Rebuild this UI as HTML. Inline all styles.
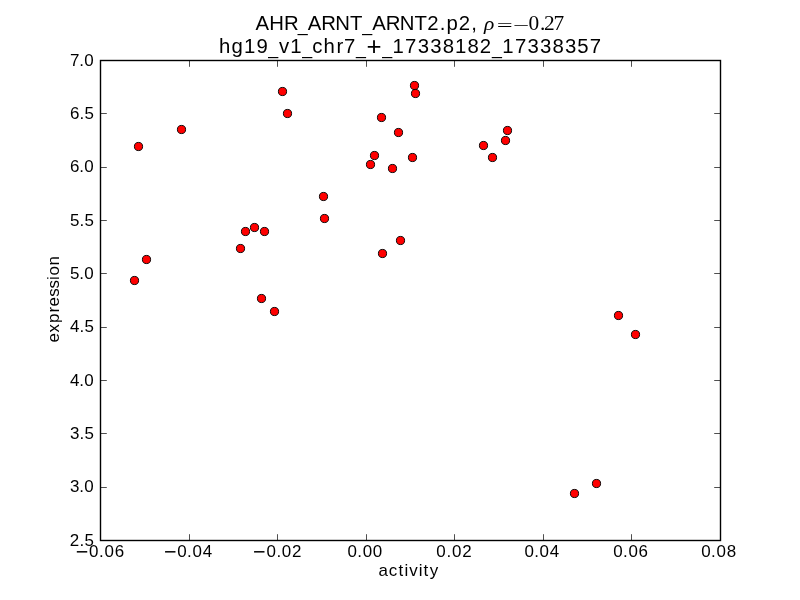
<!DOCTYPE html>
<html lang="en"><head><meta charset="utf-8"><title>AHR_ARNT_ARNT2.p2 activity vs expression</title>
<style>html,body{margin:0;padding:0;background:#fff;width:800px;height:600px;overflow:hidden}svg{display:block;will-change:transform}text{white-space:pre}</style></head>
<body>
<svg width="800" height="600" viewBox="0 0 800 600" font-family="'Liberation Sans', sans-serif" fill="#000">
<rect width="800" height="600" fill="#fff"/>
<g fill="#ff0000" stroke="#000" stroke-width="0.95">
<circle cx="138.50" cy="146.50" r="4.08"/>
<circle cx="181.50" cy="129.50" r="4.08"/>
<circle cx="146.50" cy="259.50" r="4.08"/>
<circle cx="134.50" cy="280.50" r="4.08"/>
<circle cx="245.50" cy="231.50" r="4.08"/>
<circle cx="254.50" cy="227.50" r="4.08"/>
<circle cx="264.50" cy="231.50" r="4.08"/>
<circle cx="240.50" cy="248.50" r="4.08"/>
<circle cx="261.50" cy="298.50" r="4.08"/>
<circle cx="274.50" cy="311.50" r="4.08"/>
<circle cx="282.50" cy="91.50" r="4.08"/>
<circle cx="287.50" cy="113.50" r="4.08"/>
<circle cx="414.50" cy="85.50" r="4.08"/>
<circle cx="415.50" cy="93.50" r="4.08"/>
<circle cx="381.50" cy="117.50" r="4.08"/>
<circle cx="398.50" cy="132.50" r="4.08"/>
<circle cx="374.50" cy="155.50" r="4.08"/>
<circle cx="370.50" cy="164.50" r="4.08"/>
<circle cx="392.50" cy="168.50" r="4.08"/>
<circle cx="412.50" cy="157.50" r="4.08"/>
<circle cx="323.50" cy="196.50" r="4.08"/>
<circle cx="324.50" cy="218.50" r="4.08"/>
<circle cx="400.50" cy="240.50" r="4.08"/>
<circle cx="382.50" cy="253.50" r="4.08"/>
<circle cx="483.50" cy="145.50" r="4.08"/>
<circle cx="492.50" cy="157.50" r="4.08"/>
<circle cx="505.50" cy="140.50" r="4.08"/>
<circle cx="507.50" cy="130.50" r="4.08"/>
<circle cx="618.50" cy="315.50" r="4.08"/>
<circle cx="635.50" cy="334.50" r="4.08"/>
<circle cx="574.50" cy="493.50" r="4.08"/>
<circle cx="596.50" cy="483.50" r="4.08"/>
</g>
<path d="M189.5 540.5v-6.3M189.5 60.5v6.3M277.5 540.5v-6.3M277.5 60.5v6.3M366.5 540.5v-6.3M366.5 60.5v6.3M454.5 540.5v-6.3M454.5 60.5v6.3M543.5 540.5v-6.3M543.5 60.5v6.3M631.5 540.5v-6.3M631.5 60.5v6.3M100.5 113.5h6.3M720.5 113.5h-6.3M100.5 167.5h6.3M720.5 167.5h-6.3M100.5 220.5h6.3M720.5 220.5h-6.3M100.5 273.5h6.3M720.5 273.5h-6.3M100.5 327.5h6.3M720.5 327.5h-6.3M100.5 380.5h6.3M720.5 380.5h-6.3M100.5 433.5h6.3M720.5 433.5h-6.3M100.5 487.5h6.3M720.5 487.5h-6.3" stroke="#000" stroke-width="0.69" fill="none"/>
<rect x="100.5" y="60.5" width="620" height="480" fill="none" stroke="#000" stroke-width="1.4"/>
<text font-size="16.95"><tspan x="75.69" y="558.82" font-size="21.47">−</tspan><tspan x="89.05 98.98 104.40 114.63" y="556.90">0.06</tspan></text>
<text font-size="16.95"><tspan x="163.94" y="558.82" font-size="21.47">−</tspan><tspan x="177.22 187.10 192.49 202.66" y="556.90">0.04</tspan></text>
<text font-size="16.95"><tspan x="252.94" y="558.82" font-size="21.47">−</tspan><tspan x="266.39 276.40 281.84 291.93" y="556.90">0.02</tspan></text>
<text font-size="16.95"><tspan x="347.49 357.33 362.70 372.84" y="556.90">0.00</tspan></text>
<text font-size="16.95"><tspan x="436.24 446.40 451.93 462.18" y="556.90">0.02</tspan></text>
<text font-size="16.95"><tspan x="524.49 534.26 539.59 549.66" y="556.90">0.04</tspan></text>
<text font-size="16.95"><tspan x="613.24 623.06 628.41 638.53" y="556.90">0.06</tspan></text>
<text font-size="16.95"><tspan x="701.14 711.11 716.54 726.82" y="556.90">0.08</tspan></text>
<text font-size="16.95"><tspan x="69.95 79.22 84.29" y="65.80">7.0</tspan></text>
<text font-size="16.95"><tspan x="69.99 79.46 84.57" y="119.13">6.5</tspan></text>
<text font-size="16.95"><tspan x="69.99 79.22 84.29" y="172.47">6.0</tspan></text>
<text font-size="16.95"><tspan x="69.92 79.46 84.57" y="225.80">5.5</tspan></text>
<text font-size="16.95"><tspan x="69.92 79.22 84.29" y="279.13">5.0</tspan></text>
<text font-size="16.95"><tspan x="69.98 79.46 84.57" y="332.47">4.5</tspan></text>
<text font-size="16.95"><tspan x="69.98 79.22 84.29" y="385.80">4.0</tspan></text>
<text font-size="16.95"><tspan x="70.01 79.46 84.57" y="439.13">3.5</tspan></text>
<text font-size="16.95"><tspan x="70.01 79.22 84.29" y="492.47">3.0</tspan></text>
<text font-size="16.95"><tspan x="69.76 79.46 84.57" y="545.80">2.5</tspan></text>
<text font-size="16.95"><tspan x="378.38 388.76 398.46 404.43 409.22 418.63 423.60 429.82" y="575.60">activity</tspan></text>
<text font-size="16.95" transform="translate(58.8,342) rotate(-90)"><tspan x="-0.47 9.58 19.07 29.48 35.56 45.18 53.51 62.06 66.46 76.46" y="0.00">expression</tspan></text>
<text font-size="20.34"><tspan x="255.40 269.14 283.88" y="29.75">AHR</tspan><tspan x="297.86" y="30.79" font-size="17.84">_</tspan><tspan x="307.80 321.31 335.34 350.02" y="29.75">ARNT</tspan><tspan x="362.36" y="30.79" font-size="17.84">_</tspan><tspan x="372.29 385.80 399.84 414.51 427.21 439.79 446.60 458.86 471.24 477.43" y="29.75">ARNT2.p2, </tspan></text>
<text font-size="20.34"><tspan x="219.08 231.39 243.90 256.43" y="52.60">hg19</tspan><tspan x="268.36" y="53.64" font-size="17.84">_</tspan><tspan x="278.94 290.33" y="52.60">v1</tspan><tspan x="302.30" y="53.64" font-size="17.84">_</tspan><tspan x="312.22 323.53 336.41 344.02" y="52.60">chr7</tspan><tspan x="355.93" y="53.64" font-size="17.84">_</tspan><tspan x="366.53" y="54.90" font-size="25.77">+</tspan><tspan x="382.20" y="53.64" font-size="17.84">_</tspan><tspan x="392.55 405.10 417.66 430.16 442.63 455.02 467.62 479.85" y="52.60">17338182</tspan><tspan x="491.98" y="53.64" font-size="17.84">_</tspan><tspan x="502.33 514.88 527.44 539.93 552.40 564.92 577.31 589.85" y="52.60">17338357</tspan></text>
<g font-family="'Liberation Serif', serif" font-size="20">
<text transform="translate(484.04,29.80) scale(1.100,1)" x="0" y="0" font-style="italic" font-size="19.5">ρ</text>
<text transform="translate(496.69,31.41) scale(1.413,0.860)" x="0" y="0">=</text>
<text transform="translate(512.97,30.81) scale(1.435,0.800)" x="0" y="0">−</text>
<text transform="scale(1.070,1)" x="494.00 504.76 508.47 517.37" y="29.75" font-size="20">0.27</text>
</g>
</svg>
</body></html>
